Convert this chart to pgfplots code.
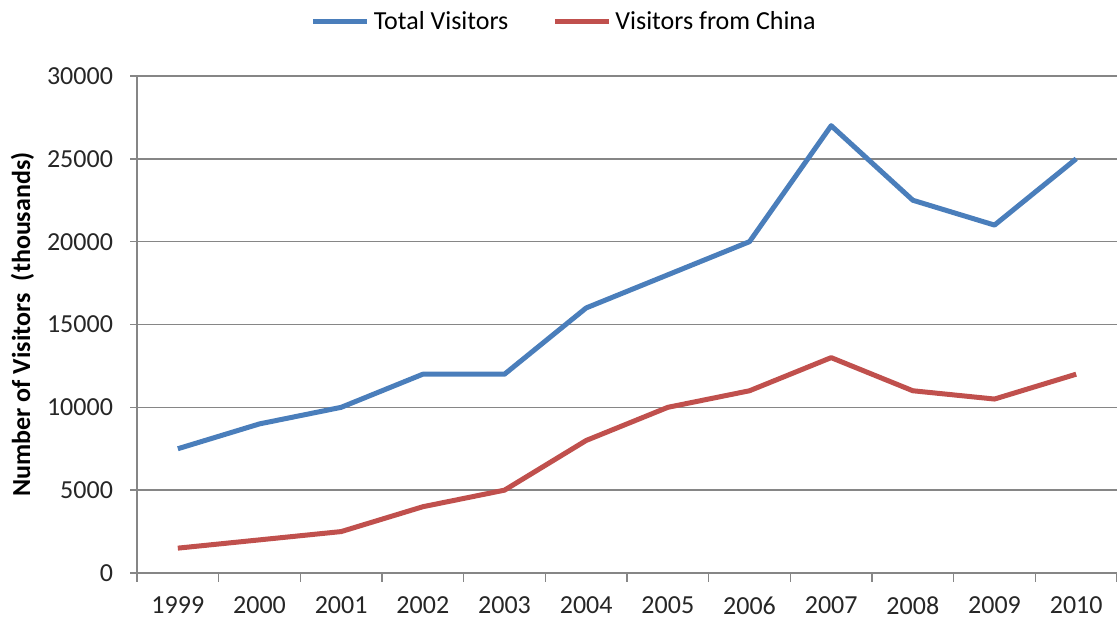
\documentclass[border=0pt]{standalone}
\usepackage{pgfplots}
\pgfplotsset{compat=1.18}
\usepackage{fontspec}
\setmainfont{Carlito}
\definecolor{cblue}{RGB}{74,126,187}
\definecolor{cred}{RGB}{192,80,77}
\definecolor{cgrid}{RGB}{134,134,134}
\begin{document}
\begin{tikzpicture}
\useasboundingbox (0pt,0pt) rectangle (558.5pt,310pt);
\begin{axis}[
  at={(68.5pt,23.5pt)}, anchor=south west,
  scale only axis, width=490pt, height=248.5pt,
  xmin=-0.5, xmax=11.5, ymin=0, ymax=30000,
  axis lines*=left,
  axis line style={draw=cgrid, line width=0.75pt, -},
  xtick={0,...,11},
  xticklabels={1999,2000,2001,2002,2003,2004,2005,2006,2007,2008,2009,2010},
  minor xtick={-0.5,0.5,...,11.5},
  major x tick style={draw=none},
  minor tick length=4.5pt,
  ytick={0,5000,...,30000},
  major tick length=3.5pt,
  tick align=outside,
  tick style={draw=cgrid, line width=0.75pt},
  ymajorgrids=true,
  grid style={draw=cgrid, line width=0.75pt},
  /pgf/number format/assume math mode=true,
  /pgf/number format/1000 sep={},
  scaled y ticks=false,
  tick label style={font=\fontsize{13}{15}\selectfont, text=black!85},
  xticklabel style={yshift=-5pt},
  yticklabel style={xshift=-5pt},
  ylabel={\textbf{Number of Visitors\hspace{0.25em} (thousands)}},
  ylabel style={at={(axis description cs:-0.117,0.5)}, anchor=center, font=\fontsize{13}{15}\selectfont},
  legend style={at={(axis description cs:0.437,1.109)}, anchor=center, draw=none, fill=none,
    legend columns=2, font=\fontsize{13}{15}\selectfont, inner sep=0pt,
    /tikz/every even column/.append style={column sep=20pt}},
  legend image code/.code={\draw[#1] (0pt,0pt) -- (27pt,0pt);},
]
\addplot[cblue, line width=2.5pt, line join=round] coordinates {
(0,7500) (1,9000) (2,10000) (3,12000) (4,12000) (5,16000) (6,18000) (7,20000) (8,27000) (9,22500) (10,21000) (11,25000)};
\addlegendentry{Total Visitors}
\addplot[cred, line width=2.5pt, line join=round] coordinates {
(0,1500) (1,2000) (2,2500) (3,4000) (4,5000) (5,8000) (6,10000) (7,11000) (8,13000) (9,11000) (10,10500) (11,12000)};
\addlegendentry{Visitors from China}
\end{axis}
\end{tikzpicture}
\end{document}
